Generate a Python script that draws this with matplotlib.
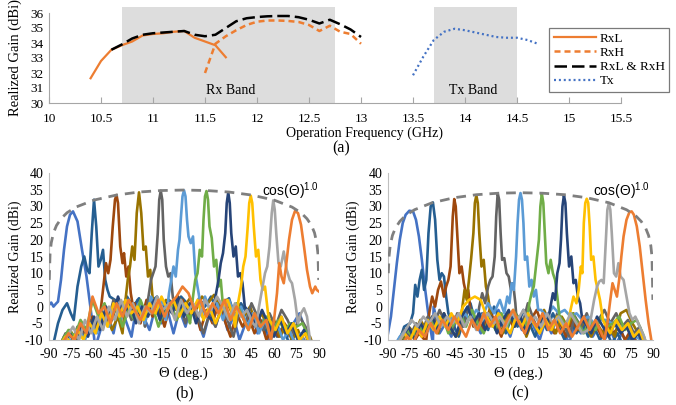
import matplotlib
matplotlib.use('Agg')
import matplotlib.pyplot as plt

plt.rcParams['font.family'] = ['Liberation Serif', 'DejaVu Serif']
plt.rcParams['axes.unicode_minus'] = False

# ---------------- (a) realized gain vs frequency ----------------
rxl_f = [10.4, 10.5, 10.6, 10.7, 10.8, 10.9, 11.0, 11.1, 11.2, 11.3, 11.4, 11.5, 11.6, 11.7]
rxl_g = [31.65, 32.8, 33.55, 33.85, 34.1, 34.5, 34.6, 34.65, 34.75, 34.8, 34.35, 34.1, 33.85, 33.05]

rxh_f = [11.5, 11.6, 11.7, 11.8, 11.9, 12.0, 12.1, 12.2, 12.3, 12.4, 12.5, 12.6, 12.7, 12.8, 12.9, 13.0]
rxh_g = [32.0, 33.95, 34.45, 34.85, 35.2, 35.42, 35.5, 35.5, 35.47, 35.4, 35.2, 34.8, 35.15, 34.75, 34.6, 33.95]

both_f = [10.6, 10.7, 10.8, 10.9, 11.0, 11.1, 11.2, 11.3, 11.4, 11.5, 11.6, 11.7, 11.8,
          11.9, 12.0, 12.1, 12.2, 12.3, 12.4, 12.5, 12.6, 12.7, 12.8, 12.9, 13.0]
both_g = [33.55, 33.9, 34.3, 34.55, 34.65, 34.7, 34.75, 34.8, 34.55, 34.45, 34.55, 35.0, 35.45,
          35.65, 35.73, 35.78, 35.8, 35.8, 35.72, 35.55, 35.3, 35.55, 35.25, 34.9, 34.4]

tx_f = [13.5, 13.6, 13.7, 13.8, 13.9, 14.0, 14.1, 14.2, 14.3, 14.4, 14.5, 14.6, 14.7]
tx_g = [31.85, 33.1, 34.2, 34.75, 34.95, 34.85, 34.7, 34.55, 34.4, 34.35, 34.35, 34.2, 33.95]

rx_band = (10.7, 12.75)
tx_band = (13.7, 14.5)

# ---------------- (b), (c) scanned beam patterns ----------------
beam_colors = ['#4472C4', '#255E91', '#9E480E', '#997300', '#636363', '#5B9BD5',
               '#70AD47', '#264478', '#FFC000', '#A5A5A5', '#ED7D31']

# cos envelope
env_t = [-89.8, -89.3, -88.5, -87, -85, -82, -78, -72, -60, -45, -30, -15, 0,
         15, 30, 45, 60, 72, 78, 82, 85, 87, 88.5, 89.3, 89.8]
env_b = [8, 15.8, 19.1, 22.1, 24.3, 26.3, 28.1, 29.8, 31.9, 33.4, 34.3, 34.75, 34.9,
         34.75, 34.3, 33.4, 31.9, 29.8, 28.1, 26.3, 24.3, 22.1, 19.1, 15.8, 8]
env_c_t = [-89.8, -89.3, -88.5, -87, -85, -82, -78, -72, -60, -45, -30, -15, 0,
           15, 30, 45, 60, 72, 78, 82, 85, 87, 88.5, 89.3, 89.6, 89.9]
env_c = [10, 15, 18.3, 21.3, 23.5, 25.5, 27.3, 29, 31.1, 32.6, 33.5, 33.95, 34.1,
         33.95, 33.5, 32.6, 31.1, 29, 27.3, 25.5, 23.5, 21.3, 18.3, 15, 9, 2]

# main lobes (theta, gain) and sidelobe floor (4 deg grid) for panel (b)
b_main_t = [
    [-90, -88.5, -87, -85.5, -84, -82, -80, -78, -76, -74, -71, -68, -65, -63, -61, -59.5],
    [-87, -84, -81, -78, -75.5, -73.5, -71, -68.5, -66.5, -64.5, -63, -61.5, -60, -58.5, -57, -55.5, -54, -52.5, -51, -49.5],
    [-56, -54, -52, -50.5, -49, -47.5, -46, -45, -44, -42.5, -41, -40, -38.5, -37, -35.5, -34],
    [-41, -39, -37.5, -36, -34.5, -33, -31.5, -30, -28.5, -27, -25.5, -24, -22.5, -21, -19.5],
    [-26, -24, -22, -20.5, -19, -17.5, -16.5, -15.5, -14.5, -13.5, -12, -10.5, -9, -7.5, -6],
    [-12, -10, -8.5, -7, -5.5, -4, -3, -2, -1, 0, 1, 2, 3, 4.5, 6, 7.5, 9, 10.5, 12],
    [4, 6, 7.5, 9, 10.5, 12, 13, 14, 15, 16, 17, 18.5, 20, 21.5, 23, 24.5, 26],
    [19, 21, 23, 24.5, 26, 27.5, 28.5, 29.5, 30.5, 31.5, 33, 34.5, 36, 37.5, 39, 40.5],
    [34, 36, 38, 39.5, 41, 42.5, 43.5, 44.5, 45.5, 46.5, 48, 49.5, 51, 52.5, 54, 56],
    [48, 50, 52, 54, 55.5, 57, 58.5, 59.5, 60.5, 61.5, 63, 64.5, 66.5, 68.5, 70.5, 72, 74, 76, 78, 80, 82, 84, 86],
    [58, 60, 62, 63.5, 65, 66.5, 68, 70, 72, 74, 76, 78, 80, 82, 84, 85.5, 86.5, 87.5, 88.5, 90],
]
b_main_g = [
    [0.5, 1.2, 0, 0.8, 1.5, 8, 17, 24, 27.5, 28.5, 25.5, 17, 9, 2, -5, -11],
    [-11, -5, -1, 1, -2, -4, 6, 12, 15, 11, 10, 22, 32, 24, 12, 14, 17, 8, 5, 3],
    [-3, 5, 13, 10, 14, 24, 32, 33.4, 31, 18, 13, 16, 9, 12, 4, 0],
    [-8, 2, 8, 12, 18, 14, 28, 34.2, 28, 17, 18, 9, 11, 3, -2],
    [-6, 2, 8, 10, 12, 22, 32, 34.7, 32, 20, 12, 9, 10, 3, -1],
    [-4, 4, 8, 12, 9, 17, 20, 27, 33, 34.8, 33, 26, 21, 19, 21, 10, 6, 2, -3],
    [-5, 3, 8, 10, 17, 15, 26, 33, 34.6, 32, 24, 20.5, 12, 14, 6, 8, 0],
    [-4, 3, 8, 13, 16, 22, 31, 34.2, 31, 22, 15, 18, 9, 10, 7, 0],
    [-6, 1, 6, 12, 15, 24, 31, 33.2, 31, 24, 15, 17, 8, 5, 6, -2],
    [-6, 0, 5, 10, 12, 18, 28, 31.8, 29, 22, 13, 12, 16.5, 11, 8, 7, 2, -5, -2, -0.5, -3, -10, -12],
    [-10, -4, 4, 13, 9, 7, 12, 20, 26, 28.6, 28, 24.5, 18, 11, 6, 4, 5, 6, 5, 4.5],
]
b_floor = [
    [0, 0, 0, 0, 0, 0, 0, -12, -6, -2, -8, 1, -4, -9, 2, -3, -7, 0, -5, -1, -8, -1, -6, 1, -4, -9, -2, -6, 0, -7, -3, -10, -5, -2, -8, -4, -11, -6, -3, -9, -5, -2, -7, -12],
    [0, 0, 0, 0, 0, 0, 0, 0, 0, 0, 2, -1, 3, 0, 2.5, -2, 1.5, 3, -1, 2, 0, 3, 1, -2, 2.5, 0, 3, -1, 1, 2.5, -3, 1, -2, -6, -3, -8, -4, -9, -6, -11, -8, -12, -10, -14],
    [-14, -11, -8, -10, -6, -9, -3, -7, 0, 0, 0, 0, 0, 1, -5, 2, -3, 0, -6, 1, -4, 2, -3, 0, -7, -1, -5, 1, -4, -9, -2, -6, -3, -8, -4, -10, -6, -9, -5, -8, -12, -9, -13, -15],
    [-13, -9, -7, -10, -5, -8, -4, -6, -2, -7, -3, 0, 0, 0, 0, 0, 0, -2, 2, -1, 3, 0, 2.5, -1, 3, 1, 3.5, 0, 2, -2, 1, -3, 0, -5, -2, -7, -4, -9, -6, -10, -7, -12, -9, -14],
    [-15, -12, -8, -11, -6, -9, -4, -7, -1, -5, 2, -3, 1, -4, 0, -3, 0, 0, 0, 0, 0, 1, -5, 2, -3, -8, -2, -6, 0, -4, -9, -1, -5, 1, -3, -7, -2, -6, -1, -4, -8, -3, -6, -11],
    [-16, -12, -9, -11, -7, -10, -5, -8, -3, -6, 0, -4, 2, -2, 1, -5, 3, -1, 2, 0, 0, 0, 0, 0, 0, 3, -2, 1, -4, 2, -3, 0, -6, -2, -8, -4, -9, -5, -10, -7, -11, -8, -13, -15],
    [-14, -10, -7, -9, -4, -7, 2, -3, 1, -5, 0, -6, -1, -4, 2, -3, 0, -6, -1, 1, -4, 0, -3, 0, 0, 0, 0, 0, 0, -4, 1, -3, -7, -2, -6, -3, -8, -4, -7, -5, -6, -5, -9, -13],
    [-14, -11, -8, -12, -6, -9, -3, -7, 0, -4, 3, -2, 1, -5, 0, -3, 2, -4, 1, -2, 3, -3, 1, -5, 0, -3, 0, 0, 0, 0, 0, 0, -2, -6, -1, -5, -9, -4, -8, -5, -10, -7, -12, -15],
    [-15, -12, -9, -11, -7, -10, -5, -8, -2, -6, 1, -3, 2, -2, 0, -4, 1, -2, 3, -1, 2, -3, 1, -2, 2, -4, 0, -5, -1, 2, -3, 0, 0, 0, 0, 0, -4, -7, -3, -8, -5, -10, -8, -13],
    [-16, -12, -9, -6, -10, -4, -8, -3, -7, 0, -4, 2, -3, 1, -5, 0, -2, 3, -1, 1, -4, 2, -2, 1, -3, 2, -1, 3, 0, -4, 1, -3, -1, -5, 0, 0, 0, 0, 0, 0, 0, 0, 0, 0],
    [-15, -11, -8, -10, -5, -8, 3, -2, 0, -5, 1, -3, 2, -1, -4, 0, -2, 2, -3, 1, 3, 6, 4, -1, 2, -3, 1, -2, 2, -4, 0, -3, -7, -2, -6, -4, 0, 0, 0, 0, 0, 0, 0, 0],
]

# panel (c)
c_main_t = [
    [-90, -88, -86, -84, -82, -80, -78, -75.5, -73, -71, -69, -67, -65, -63, -61, -59.5],
    [-82, -79, -77, -75, -73, -71.5, -70, -68.5, -67, -65.5, -64, -62.5, -61, -59.5, -58, -56.5, -55, -53.5, -52, -50.5, -49],
    [-64, -62, -60, -58, -56, -54, -52, -50.5, -49, -47.5, -46, -45, -44, -43, -41.5, -40, -38.5, -37, -35.5, -34, -32],
    [-42, -40, -38, -36.5, -35, -33.5, -32, -31, -30, -29, -28, -26.5, -25, -23.5, -22, -20.5, -19],
    [-30, -28, -26, -24, -22, -20.5, -19, -17.5, -16.5, -15.5, -14.5, -13.5, -12.5, -11, -9.5, -8, -6.5, -5, -3.5],
    [-11, -9, -7.5, -6, -4.5, -3, -2, -1, 0, 1, 2, 3, 4.5, 6, 7.5, 9, 10.5, 12],
    [4, 6, 7.5, 9, 10.5, 11.5, 12.5, 13.5, 14.5, 15.5, 16.5, 17.5, 19, 20.5, 22, 23.5, 25, 26.5],
    [18, 20, 22, 23.5, 25, 26.5, 27.5, 28.5, 29.5, 30.5, 31.5, 33, 34.5, 36, 37.5, 39, 40.5, 42],
    [32, 34, 36, 38, 39.5, 41, 42, 43, 44, 45, 46, 47, 48, 49.5, 51, 52.5, 54, 56],
    [46, 48, 50, 52, 53.5, 55, 56.5, 58, 59, 60, 61, 62, 63.5, 65, 66.5, 68, 70, 72, 74, 76, 78, 80, 82, 84, 86],
    [57, 59, 61, 62.5, 64, 65.5, 67, 68.5, 70, 72, 74, 75.5, 77, 79, 81, 83, 85, 87, 88.5, 89.5],
]
c_main_g = [
    [-8, -3, 5, 13, 20, 25, 27.5, 28.7, 28.5, 26, 21, 14, 6, -1, -7, -11],
    [-10, -6, -5.5, -5, -2, 6.5, 3, 8, 11, 5, 8, 22, 30, 31.2, 26, 14, 8, 10, 9, 3, -2],
    [-10, -2, 3, 0, 5, 7.5, 3, 6, 8, 12, 27, 32.2, 30, 22, 10, 12, 7, 4, 5, -1, -6],
    [-8, -2, 5, 2, 8, 14.5, 22, 31, 33.3, 31, 22, 12, 14, 6, 3, -2, -5],
    [-6, 0, 4, 1, 6, 8, 9, 15, 27, 33.9, 32, 22, 14, 14.5, 10, 9, 5, 7, 1],
    [-2, 3, 1, 7, 5, 15, 25, 32, 34, 32, 25, 14, 15, 6, 8, 3, 5, -1],
    [-5, 1, 4, 6, 12, 16, 20, 30, 33.8, 31, 22, 13, 10, 14, 10, 8, 3, -3],
    [-6, -1, 4, 2, 10, 13, 20, 30, 33.3, 31, 22, 12, 15, 7, 8, 3, 1, -4],
    [-6, -1, 3, 1, 5, 12, 10, 25, 31, 32.3, 31, 24, 14, 15, 8, 5, 2, -4],
    [-7, -3, 2, 6, 7.5, 8, 7, 20, 29, 31, 29, 22, 10, 9, 13, 9, 8, 3, -2, -4, -3, -5, -7, -9, -12],
    [-10, -5, 2, 7, 5, 3, 8, 15, 21, 26, 28.3, 28.5, 27.5, 24, 18, 10, 2, -5, -9, -12],
]
c_floor = [
    [0, 0, 0, 0, 0, 0, 0, 0, -8, -5, -9, -3, -6, 0, -4, -8, -2, -6, -1, -5, -9, -3, -7, -2, -6, -10, -4, -8, -3, -7, -11, -5, -8, -4, -9, -6, -10, -7, -11, -8, -12, -9, -13, -15],
    [-14, 0, 0, 0, 0, 0, 0, 0, 0, 0, -5, -9, -3, 1, -6, -2, -7, 0, -4, -8, -3, -6, -1, -5, -9, -3, -7, -2, -6, -10, -4, -8, -5, -9, -6, -10, -7, -11, -8, -12, -9, -13, -11, -15],
    [-15, -12, -9, -11, -8, -10, 0, 0, 0, 0, 0, 0, 0, 0, -3, -7, -1, -5, -9, -2, -6, -3, -8, -4, -1, -6, -3, -8, -5, -9, -4, -7, -3, -8, -5, -9, -4, -8, -6, -10, -7, -11, -13, -16],
    [-14, -10, -6, -8, -4, -7, -3, -8, -2, -6, -9, 0, 0, 0, 0, 0, 0, -4, -8, -2, -6, -3, -9, -4, -7, -1, -5, -8, -3, -6, -2, -7, -4, -9, -5, -8, -6, -9, -2, -1, -5, -8, -11, -14],
    [-15, -10, -7, -9, -5, -8, -3, -6, -1, -5, -8, -2, -6, 0, -5, 0, 0, 0, 0, 0, 0, -2, -6, 1, -4, -8, -3, -7, -2, -5, -9, -3, -6, -2, -7, -4, -1, -5, -2, -6, -4, -8, -6, -11],
    [-12, -9, -7, -8, -6, -7, -5, -6, -4, -6, -3, -5, -2, -4, -1, -3, 1, -2, 2, 0, 0, 0, 0, 0, 0, -1, -3, 0, -2, -1, -3, -2, -4, -3, -5, -4, -4, -5, -6, -6, -7, -9, -10, -13],
    [-14, -10, -7, -9, -6, -8, -4, -7, -3, -8, -5, -2, -6, -1, -5, -8, -3, -7, -2, -6, -1, -4, -7, 0, 0, 0, 0, 0, -3, -6, -2, -5, -8, -4, -7, -3, -6, -5, -3, -7, -5, -4, -8, -13],
    [-13, -9, -6, -10, -5, -8, -3, -7, -2, -6, -9, -3, 0, -5, -2, -7, -3, -8, -4, -1, -6, -3, -8, -4, -7, -3, 0, 0, 0, 0, 0, 0, -5, -8, -3, -6, -9, -5, -8, -6, -10, -8, -12, -15],
    [-15, -11, -8, -10, -6, -9, -4, -7, -3, -6, -2, -5, 0, 2, 3, 2, -3, -6, -2, -5, -8, -3, -6, -2, -5, -8, -4, -7, -3, -6, 0, 0, 0, 0, 0, 0, -5, -8, -4, -7, -5, -9, -7, -12],
    [-14, -10, -7, -4, -6, -3, -5, -2, -6, -3, -5, -2, -6, -3, -7, -4, -2, -5, -3, -6, -2, -4, -1, -5, -3, -6, -2, -5, -3, -6, -2, -5, -8, 0, 0, 0, 0, 0, 0, 0, 0, 0, 0, 0],
    [-15, -12, -9, -11, -7, -9, -5, -8, -4, -7, -3, -6, -9, -4, -7, -2, -6, -3, -8, -4, -1, -5, -8, -3, -6, -2, -7, -4, -8, -5, -9, -6, -3, -7, -4, -8, 0, 0, 0, 0, 0, 0, 0, 0],
]


def beam_trace(main_t, main_g, floor, offset):
    # floor samples sit on a 4 deg grid; the main lobe points replace them where they overlap
    grid = [-87 + offset + 4 * k for k in range(len(floor))]
    pts = [(t, g) for t, g in zip(grid, floor) if t < main_t[0] or t > main_t[-1]]
    pts += list(zip(main_t, main_g))
    pts.sort()
    return [p[0] for p in pts], [p[1] for p in pts]


def W(px):
    return px / 676.0


def H(py):
    return 1 - py / 405.0


fig = plt.figure(figsize=(6.76, 4.05), dpi=100)

# ----------- top panel -----------
ax = fig.add_axes([W(49), H(103), W(621) - W(49), H(7) - H(103)])
ax.axvspan(rx_band[0], rx_band[1], color='#DDDDDD', lw=0, zorder=0)
ax.axvspan(tx_band[0], tx_band[1], color='#DDDDDD', lw=0, zorder=0)
ax.plot(rxl_f, rxl_g, color='#ED7D31', lw=1.6, label='RxL')
ax.plot(rxh_f, rxh_g, color='#ED7D31', lw=1.8, ls=(0, (2.4, 1.6)), label='RxH')
ax.plot(both_f, both_g, color='black', lw=1.8, ls=(0, (5, 2)), label='RxL & RxH')
ax.plot(tx_f, tx_g, color='#4472C4', lw=1.6, ls=(0, (0.9, 1.3)), label='Tx')
ax.set_xlim(10, 15.5)
ax.set_ylim(30, 36.4)
ax.set_xticks([10, 10.5, 11, 11.5, 12, 12.5, 13, 13.5, 14, 14.5, 15, 15.5])
ax.set_xticklabels(['10', '10.5', '11', '11.5', '12', '12.5', '13', '13.5', '14', '14.5', '15', '15.5'])
ax.set_yticks([30, 31, 32, 33, 34, 35, 36])
ax.spines['top'].set_visible(False)
ax.spines['right'].set_visible(False)
ax.spines['left'].set_bounds(30, 36)
ax.spines['left'].set_color('#A6A6A6')
ax.spines['bottom'].set_color('#A6A6A6')
ax.tick_params(axis='x', direction='in', length=4, color='#A6A6A6', labelsize=9.5, pad=7)
ax.tick_params(axis='y', length=0, labelsize=9.5, pad=4)
ax.text(11.75, 30.85, 'Rx Band', ha='center', va='center', fontsize=10)
ax.text(14.08, 30.85, 'Tx Band', ha='center', va='center', fontsize=10)
ax.legend(loc='upper left', bbox_to_anchor=(W(549), H(28)), bbox_transform=fig.transFigure,
          fontsize=9.5, frameon=True, fancybox=False, edgecolor='#595959', borderaxespad=0,
          borderpad=0.35, labelspacing=0.15, handlelength=3.2, handletextpad=0.3)
ax.get_legend().get_frame().set_linewidth(0.9)
fig.text(W(15), H(58), 'Realized Gain (dBi)', rotation=90, ha='center', va='center', fontsize=10.5)
fig.text(W(365), H(133), 'Operation Frequency (GHz)', ha='center', va='center', fontsize=10)
fig.text(W(341), H(148), '(a)', ha='center', va='center', fontsize=11.5)

# ----------- bottom panels -----------
panels = [
    (W(49), W(319), b_main_t, b_main_g, b_floor, env_t, env_b, 52, 183, '(b)'),
    (W(388), W(653), c_main_t, c_main_g, c_floor, env_c_t, env_c, 49.3, 518, '(c)'),
]
for left, right, mt, mg, fl, et, eg, cos_x, cx, tag in panels:
    bx = fig.add_axes([left, H(340), right - left, H(173) - H(340)])
    for i in range(len(mt)):
        t, g = beam_trace(mt[i], mg[i], fl[i], i % 4)
        bx.plot(t, g, color=beam_colors[i], lw=1.9)
    bx.plot(et, eg, color='#7F7F7F', lw=2.0, ls=(0, (3.5, 2.5)), zorder=5)
    bx.text(cos_x, 34.6, r'$\mathregular{cos(Θ)^{1.0}}$', family='Liberation Sans',
            fontsize=10, ha='left', va='center')
    bx.set_xlim(-90, 90)
    bx.set_ylim(-10, 40)
    bx.set_xticks(range(-90, 91, 15))
    bx.set_yticks(range(-10, 41, 5))
    bx.spines['top'].set_visible(False)
    bx.spines['right'].set_visible(False)
    bx.spines['left'].set_color('#BFBFBF')
    bx.spines['bottom'].set_color('#BFBFBF')
    bx.tick_params(length=0, labelsize=10, pad=6)
    bx.tick_params(axis='y', pad=4)
    fig.text(W(cx), H(373), 'Θ (deg.)', ha='center', va='center', fontsize=10.5)
    fig.text(W(cx + 2), H(393), tag, ha='center', va='center', fontsize=11.5)

fig.text(W(15), H(257), 'Realized Gain (dBi)', rotation=90, ha='center', va='center', fontsize=10)
fig.text(W(353), H(257), 'Realized Gain (dBi)', rotation=90, ha='center', va='center', fontsize=10)

fig.savefig('out.png', dpi=100)
